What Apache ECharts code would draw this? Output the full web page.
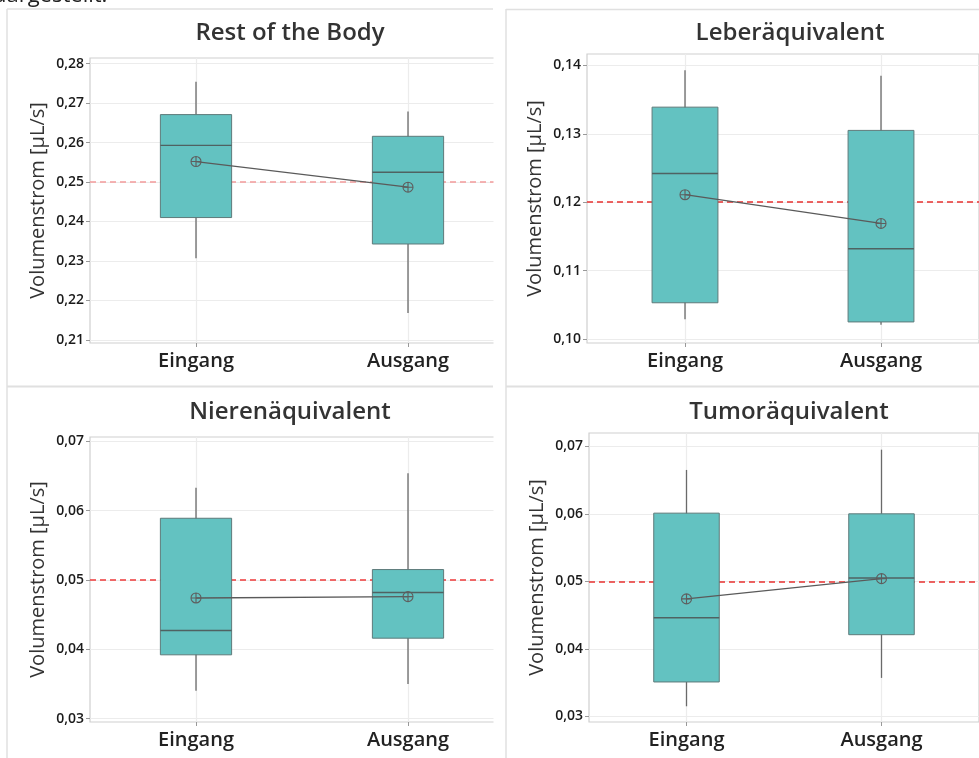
<!DOCTYPE html>
<html><head><meta charset="utf-8">
<script src="https://cdn.jsdelivr.net/npm/echarts@6/dist/echarts.min.js"></script>
<style>html,body{margin:0;padding:0;background:#fff}#c{width:979px;height:758px}</style>
</head><body><div id="c"></div>
<script>
const categories = ['Eingang', 'Ausgang'];
const titles = ['Rest of the Body', 'Leberäquivalent', 'Nierenäquivalent', 'Tumoräquivalent'];
const yName = 'Volumenstrom [µL/s]';
// box values per category: [min, Q1, median, Q3, max]
const restBox = [[0.2307, 0.2410, 0.2593, 0.2671, 0.2754], [0.2168, 0.2343, 0.2525, 0.2616, 0.2679]];
const restMean = [0.2552, 0.2487];
const leberBox = [[0.1029, 0.1053, 0.1242, 0.1339, 0.1393], [0.1021, 0.1025, 0.1132, 0.1305, 0.1385]];
const leberMean = [0.1211, 0.1169];
const niereBox = [[0.0340, 0.0392, 0.0427, 0.0589, 0.0633], [0.0350, 0.0416, 0.0482, 0.0515, 0.0654]];
const niereMean = [0.0474, 0.0476];
const tumorBox = [[0.0315, 0.0351, 0.0446, 0.0601, 0.0665], [0.0357, 0.0421, 0.0505, 0.0600, 0.0695]];
const tumorMean = [0.0474, 0.0504];
const refValues = [0.25, 0.12, 0.05, 0.05];
const restTicks = [0.21, 0.22, 0.23, 0.24, 0.25, 0.26, 0.27, 0.28];
const leberTicks = [0.10, 0.11, 0.12, 0.13, 0.14];
const niereTicks = [0.03, 0.04, 0.05, 0.06, 0.07];
const tumorTicks = [0.03, 0.04, 0.05, 0.06, 0.07];
const axisRanges = [[0.2092, 0.28145], [0.09942, 0.14167], [0.02951, 0.07062], [0.02917, 0.07197]];

const boxes = [restBox, leberBox, niereBox, tumorBox];
const means = [restMean, leberMean, niereMean, tumorMean];
const ticks = [restTicks, leberTicks, niereTicks, tumorTicks];

const grids = [
  {left: 90, top: 58, width: 424, height: 285},
  {left: 587, top: 54, width: 426, height: 289},
  {left: 90, top: 437, width: 424, height: 285},
  {left: 589, top: 433, width: 423, height: 289}
];
const titlePos = [[290, 33], [790, 33], [290, 412], [789, 412]];
const refColors = ['#f29a9a', '#e8312f', '#ee3a3a', '#e8312f'];
const FONT = '"Open Sans", "Noto Sans", sans-serif';

function fmt(v) { return v.toFixed(2).replace('.', ','); }

function renderBox(params, api) {
  const c = api.value(0);
  const band = api.size([1, 0])[0];
  const w = band * 0.336;
  const x = api.coord([c, api.value(3)])[0];
  const yMin = api.coord([c, api.value(1)])[1];
  const yQ1 = api.coord([c, api.value(2)])[1];
  const yMed = api.coord([c, api.value(3)])[1];
  const yQ3 = api.coord([c, api.value(4)])[1];
  const yMax = api.coord([c, api.value(5)])[1];
  return {type: 'group', children: [
    {type: 'line', shape: {x1: x, y1: yMax, x2: x, y2: yMin}, style: {stroke: '#6a6a6a', lineWidth: 1.3}},
    {type: 'rect', shape: {x: x - w / 2, y: yQ3, width: w, height: yQ1 - yQ3}, style: {fill: '#63c2c1', stroke: '#5e7a7a', lineWidth: 1}},
    {type: 'line', shape: {x1: x - w / 2, y1: yMed, x2: x + w / 2, y2: yMed}, style: {stroke: '#4f6262', lineWidth: 1.4}}
  ]};
}

const meanSymbol = 'path://M10,0A10,10,0,1,1,10,20A10,10,0,1,1,10,0ZM0,10L20,10M10,0L10,20';

const option = {
  animation: false,
  backgroundColor: '#fff',
  grid: grids.map(g => Object.assign({show: true, borderColor: '#cfcfcf', borderWidth: 1.2, backgroundColor: 'transparent'}, g)),
  xAxis: grids.map((g, i) => ({
    type: 'category', gridIndex: i, data: categories,
    axisLine: {show: false},
    axisTick: {show: true, alignWithLabel: true, length: 4, lineStyle: {color: '#999'}},
    axisLabel: {fontSize: 20, fontWeight: 600, color: '#222', margin: 8, fontFamily: FONT},
    splitLine: {show: false}
  })),
  yAxis: grids.map((g, i) => ({
    type: 'value', gridIndex: i, min: axisRanges[i][0], max: axisRanges[i][1],
    name: yName, nameLocation: 'middle', nameRotate: 90, nameGap: 42,
    nameTextStyle: {fontSize: 20, color: '#333', fontFamily: FONT},
    axisLine: {show: false},
    axisTick: {show: true, length: 4, lineStyle: {color: '#999'}, customValues: ticks[i]},
    axisLabel: {fontSize: 14, fontWeight: 600, color: '#1a1a1a', margin: 6, fontFamily: FONT, customValues: ticks[i], formatter: fmt},
    splitLine: {show: true, lineStyle: {color: '#ececec', width: 1.2}}
  })),
  series: []
};

for (let i = 0; i < 4; i++) {
  option.series.push({
    type: 'line', xAxisIndex: i, yAxisIndex: i, data: [], z: 1, silent: true,
    markLine: {
      silent: true, symbol: 'none', label: {show: false}, animation: false, z: 1,
      data: [
        {xAxis: categories[0], lineStyle: {color: '#ececec', type: 'solid', width: 1.2}},
        {xAxis: categories[1], lineStyle: {color: '#ececec', type: 'solid', width: 1.2}},
        {yAxis: refValues[i], lineStyle: {color: refColors[i], type: [6, 4], width: 1.5}}
      ]
    }
  });
  option.series.push({
    type: 'custom', xAxisIndex: i, yAxisIndex: i, z: 2, silent: true,
    renderItem: renderBox,
    encode: {x: 0, y: [1, 2, 3, 4, 5]},
    data: boxes[i].map((b, k) => [k].concat(b))
  });
  option.series.push({
    type: 'line', xAxisIndex: i, yAxisIndex: i, z: 3, silent: true,
    data: means[i],
    symbol: meanSymbol, symbolSize: 10, showAllSymbol: true,
    lineStyle: {color: '#5a5a5a', width: 1.3},
    itemStyle: {color: 'rgba(0,0,0,0)', borderColor: '#5e5e5e', borderWidth: 1.1}
  });
}

const border = '#e0e0e0';
option.graphic = [
  {type: 'rect', z: 100, shape: {x: 493.5, y: 0, width: 23, height: 758}, style: {fill: '#fff'}},
  {type: 'line', z: 101, shape: {x1: 7, y1: 9, x2: 7, y2: 758}, style: {stroke: border, lineWidth: 1.5}},
  {type: 'line', z: 101, shape: {x1: 7, y1: 9, x2: 493, y2: 9}, style: {stroke: border, lineWidth: 1.5}},
  {type: 'line', z: 101, shape: {x1: 7, y1: 386.5, x2: 493, y2: 386.5}, style: {stroke: border, lineWidth: 2}},
  {type: 'line', z: 101, shape: {x1: 506, y1: 9, x2: 506, y2: 758}, style: {stroke: border, lineWidth: 1.5}},
  {type: 'line', z: 101, shape: {x1: 506, y1: 9.5, x2: 979, y2: 9.5}, style: {stroke: border, lineWidth: 1.5}},
  {type: 'line', z: 101, shape: {x1: 506, y1: 386.5, x2: 979, y2: 386.5}, style: {stroke: border, lineWidth: 2}},
  {type: 'text', z: 101, x: -7, y: -4, style: {text: 'dargestellt.', font: '22px ' + FONT, fill: '#222', verticalAlign: 'middle'}}
].concat(titles.map((t, i) => ({
  type: 'text', z: 101, x: titlePos[i][0], y: titlePos[i][1],
  style: {text: t, font: '600 24px ' + FONT, fill: '#333', align: 'center', verticalAlign: 'middle'}
})));

const chart = echarts.init(document.getElementById('c'), null, {renderer: 'canvas'});
chart.setOption(option);
</script>
</body></html>
